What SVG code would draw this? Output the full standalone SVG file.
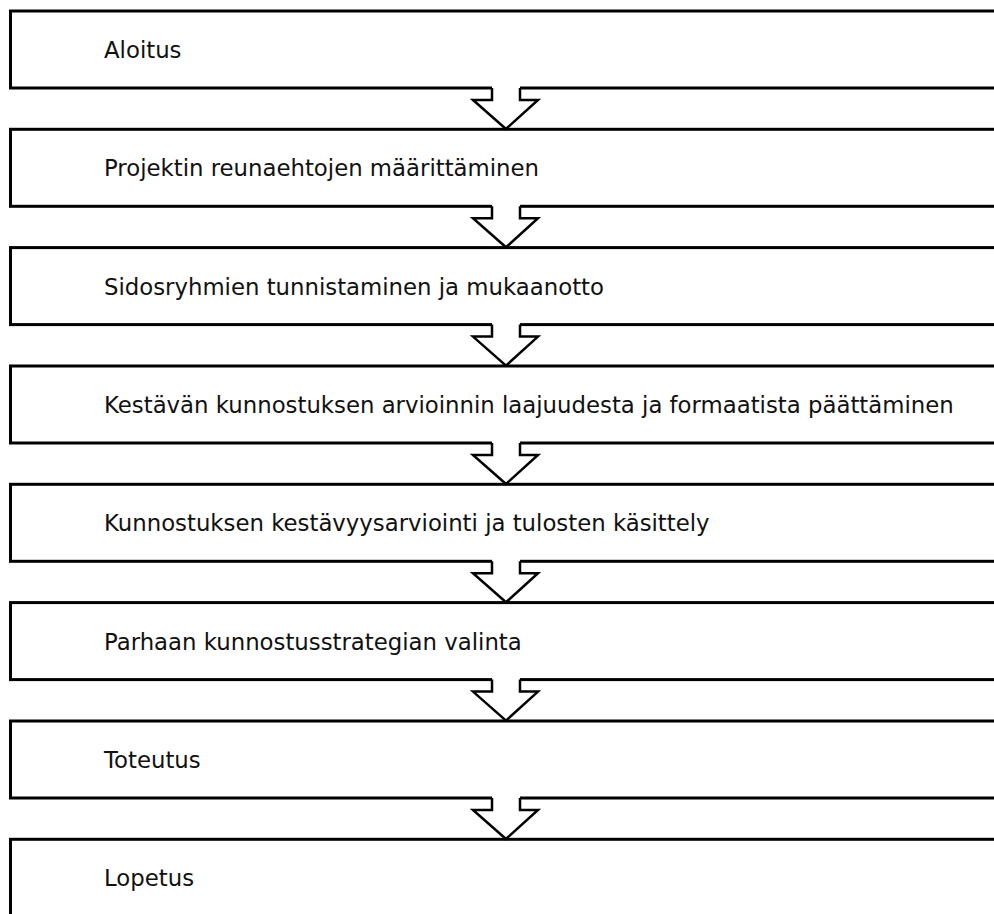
<svg xmlns="http://www.w3.org/2000/svg" width="994" height="914" viewBox="0 0 994 914">
  <style>
    .box { fill: #ffffff; stroke: #000000; stroke-width: 3; }
    .label { font-family: "DejaVu Sans", Verdana, sans-serif; font-size: 22.8px; fill: #111111; }
    .arrow-fill { fill: #ffffff; stroke: none; }
    .arrow-line { fill: none; stroke: #000000; stroke-width: 2.5; stroke-linejoin: miter; }
  </style>
  <defs>
    <!-- down block arrow joining a step to the next; origin at the bottom edge of the upper step -->
    <g id="step-arrow">
      <polygon class="arrow-fill" points="492,-3 492,12 473,12 506,41 538,12 520,12 520,-3"/>
      <polyline class="arrow-line" points="492,0 492,12 473,12 506,41 538,12 520,12 520,0"/>
    </g>
  </defs>

  <g id="step-1">
    <rect class="box" x="10.5" y="11" width="1000" height="77"/>
    <text class="label" x="104" y="58">Aloitus</text>
  </g>
  <g id="step-2">
    <rect class="box" x="10.5" y="129.3" width="1000" height="77"/>
    <text class="label" x="104" y="176.3">Projektin reunaehtojen määrittäminen</text>
  </g>
  <g id="step-3">
    <rect class="box" x="10.5" y="247.6" width="1000" height="77"/>
    <text class="label" x="104" y="294.6">Sidosryhmien tunnistaminen ja mukaanotto</text>
  </g>
  <g id="step-4">
    <rect class="box" x="10.5" y="366" width="1000" height="77"/>
    <text class="label" x="104" y="413">Kestävän kunnostuksen arvioinnin laajuudesta ja formaatista päättäminen</text>
  </g>
  <g id="step-5">
    <rect class="box" x="10.5" y="484.3" width="1000" height="77"/>
    <text class="label" x="104" y="531.3">Kunnostuksen kestävyysarviointi ja tulosten käsittely</text>
  </g>
  <g id="step-6">
    <rect class="box" x="10.5" y="602.6" width="1000" height="77"/>
    <text class="label" x="104" y="649.6">Parhaan kunnostusstrategian valinta</text>
  </g>
  <g id="step-7">
    <rect class="box" x="10.5" y="721" width="1000" height="77"/>
    <text class="label" x="104" y="768">Toteutus</text>
  </g>
  <g id="step-8">
    <rect class="box" x="10.5" y="839.3" width="1000" height="77"/>
    <text class="label" x="104" y="886.3">Lopetus</text>
  </g>

  <g id="connectors">
    <use href="#step-arrow" transform="translate(0,88)"/>
    <use href="#step-arrow" transform="translate(0,206.3)"/>
    <use href="#step-arrow" transform="translate(0,324.6)"/>
    <use href="#step-arrow" transform="translate(0,443)"/>
    <use href="#step-arrow" transform="translate(0,561.3)"/>
    <use href="#step-arrow" transform="translate(0,679.6)"/>
    <use href="#step-arrow" transform="translate(0,798)"/>
  </g>
</svg>
